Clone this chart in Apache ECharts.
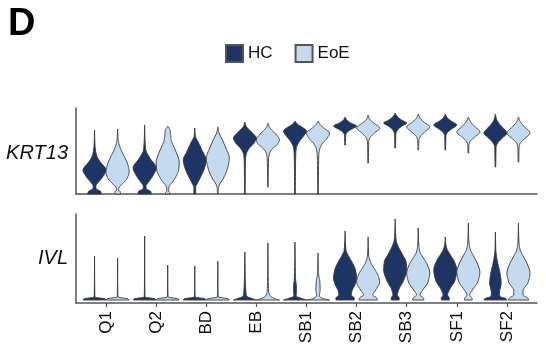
<!DOCTYPE html>
<html>
<head>
<meta charset="utf-8">
<script src="https://cdn.jsdelivr.net/npm/echarts@6/dist/echarts.min.js"></script>
<style>
  html, body { margin: 0; padding: 0; background: #fff; }
  #chart { width: 546px; height: 351px; }
</style>
</head>
<body>
<div id="chart"></div>
<script>
var categories = ["Q1", "Q2", "BD", "EB", "SB1", "SB2", "SB3", "SF1", "SF2"];
var groups = ["HC", "EoE"];
var genes = ["KRT13", "IVL"];

// violin profiles: [expression, relative density] from bottom to top
var krt13HC = [
  [[0, 0.6], [0.3, 0.5], [0.5, 0.15], [0.8, 0.12], [1.2, 0.35], [1.7, 0.7], [2.4, 1.0], [3.2, 0.5], [3.9, 0.17], [4.9, 0.04], [6.4, 0]],
  [[0, 0.6], [0.3, 0.5], [0.5, 0.15], [0.8, 0.12], [1.2, 0.35], [1.8, 0.7], [2.6, 1.0], [3.6, 0.45], [4.4, 0.1], [5.5, 0.03], [6.9, 0]],
  [[0, 0.08], [0.7, 0.08], [1.0, 0.2], [1.8, 0.55], [2.6, 0.85], [3.4, 1.0], [4.2, 0.7], [5.2, 0.3], [5.8, 0.05], [6.6, 0]],
  [[0, 0.03], [2.0, 0.04], [3.4, 0.06], [4.0, 0.12], [4.6, 0.4], [5.1, 0.8], [5.6, 1.0], [6.0, 0.75], [6.4, 0.4], [6.8, 0.1], [7.2, 0]],
  [[0, 0.03], [2.0, 0.04], [4.0, 0.07], [4.6, 0.12], [5.2, 0.35], [5.8, 0.75], [6.3, 1.0], [6.7, 0.6], [7.0, 0.2], [7.3, 0]],
  [[4.9, 0.03], [5.9, 0.06], [6.2, 0.2], [6.5, 0.6], [6.8, 1.0], [7.1, 0.5], [7.4, 0.15], [7.7, 0]],
  [[4.6, 0.03], [6.0, 0.06], [6.4, 0.2], [6.8, 0.6], [7.1, 1.0], [7.4, 0.55], [7.8, 0.15], [8.1, 0]],
  [[4.4, 0.03], [5.8, 0.05], [6.1, 0.15], [6.5, 0.55], [6.9, 1.0], [7.3, 0.5], [7.7, 0.12], [8.0, 0]],
  [[2.7, 0.03], [4.7, 0.06], [5.1, 0.2], [5.6, 0.6], [6.1, 1.0], [6.5, 0.75], [7.0, 0.35], [7.5, 0.1], [8.0, 0]]
];
var krt13EoE = [
  [[0, 0.25], [0.2, 0.25], [0.4, 0.08], [0.7, 0.15], [1.1, 0.5], [1.6, 0.85], [2.2, 1.0], [2.8, 0.92], [3.6, 0.65], [4.3, 0.35], [5.0, 0.12], [5.5, 0.04], [6.5, 0]],
  [[0, 0.2], [0.1, 0.2], [0.3, 0.08], [0.7, 0.1], [1.1, 0.35], [1.7, 0.7], [2.4, 0.95], [3.2, 1.0], [4.0, 0.8], [4.8, 0.5], [5.4, 0.3], [5.9, 0.25], [6.4, 0.2], [6.8, 0]],
  [[0, 0.04], [0.4, 0.04], [0.8, 0.1], [1.6, 0.5], [2.6, 0.85], [3.6, 1.0], [4.6, 0.7], [5.4, 0.4], [6.2, 0.08], [6.7, 0]],
  [[0.7, 0.02], [3.5, 0.06], [4.1, 0.15], [4.6, 0.45], [5.0, 0.85], [5.4, 1.0], [6.1, 0.6], [6.5, 0.25], [6.8, 0.08], [7.1, 0]],
  [[0, 0.03], [3.8, 0.06], [4.4, 0.12], [5.0, 0.35], [5.6, 0.8], [6.1, 1.0], [6.6, 0.5], [7.0, 0.15], [7.3, 0]],
  [[3.1, 0.03], [5.2, 0.05], [5.6, 0.15], [6.1, 0.55], [6.6, 1.0], [7.1, 0.5], [7.5, 0.12], [7.9, 0]],
  [[4.4, 0.03], [5.3, 0.05], [5.7, 0.15], [6.2, 0.55], [6.7, 1.0], [7.2, 0.5], [7.6, 0.15], [8.0, 0]],
  [[4.1, 0.03], [4.9, 0.05], [5.2, 0.12], [5.7, 0.55], [6.2, 1.0], [6.8, 0.5], [7.3, 0.15], [7.7, 0]],
  [[3.2, 0.03], [4.6, 0.05], [5.0, 0.12], [5.5, 0.5], [6.1, 1.0], [6.8, 0.45], [7.3, 0.12], [7.7, 0]]
];
var ivlHC = [
  [[0, 1], [0.12, 0.9], [0.3, 0.03], [4.4, 0]],
  [[0, 1], [0.12, 0.9], [0.3, 0.03], [6.4, 0]],
  [[0, 1], [0.12, 0.9], [0.3, 0.03], [3.4, 0]],
  [[0, 1], [0.12, 0.7], [0.4, 0.15], [1.0, 0.08], [2.0, 0.04], [4.8, 0]],
  [[0, 1], [0.15, 0.6], [0.4, 0.1], [0.8, 0.13], [1.4, 0.13], [2.0, 0.06], [3.0, 0.03], [5.8, 0]],
  [[0, 0.8], [0.2, 0.8], [0.5, 0.55], [0.9, 0.6], [1.5, 0.85], [2.2, 1.0], [3.0, 0.9], [3.8, 0.6], [4.5, 0.25], [5.0, 0.08], [5.8, 0.03], [6.9, 0]],
  [[0, 0.35], [0.2, 0.35], [0.5, 0.2], [1.0, 0.3], [2.0, 0.75], [3.0, 1.0], [3.8, 0.95], [4.6, 0.6], [5.4, 0.25], [6.0, 0.08], [7.0, 0.03], [8.1, 0]],
  [[0, 0.35], [0.2, 0.35], [0.5, 0.2], [1.0, 0.35], [2.0, 0.85], [3.0, 1.0], [3.8, 0.8], [4.5, 0.45], [5.1, 0.15], [5.6, 0.05], [6.3, 0]],
  [[0, 1], [0.15, 0.9], [0.35, 0.4], [0.7, 0.35], [1.7, 0.5], [2.7, 0.4], [3.7, 0.2], [4.5, 0.08], [5.2, 0.03], [6.8, 0]]
];
var ivlEoE = [
  [[0, 1], [0.12, 0.9], [0.3, 0.03], [4.2, 0]],
  [[0, 1], [0.12, 0.9], [0.3, 0.03], [3.5, 0]],
  [[0, 1], [0.12, 0.9], [0.3, 0.03], [3.9, 0]],
  [[0, 1], [0.15, 0.6], [0.4, 0.2], [0.9, 0.06], [2.0, 0.03], [5.7, 0]],
  [[0, 1], [0.12, 0.5], [0.4, 0.12], [1.0, 0.18], [1.8, 0.16], [2.5, 0.06], [3.2, 0.03], [4.7, 0]],
  [[0, 0.8], [0.2, 0.75], [0.5, 0.4], [0.9, 0.6], [1.8, 1.0], [2.5, 0.85], [3.2, 0.5], [3.8, 0.2], [4.4, 0.06], [5.2, 0.02], [6.3, 0]],
  [[0, 0.5], [0.2, 0.45], [0.5, 0.15], [1.0, 0.4], [1.8, 0.85], [2.7, 1.0], [3.5, 0.8], [4.2, 0.45], [4.8, 0.15], [5.5, 0.05], [7.2, 0]],
  [[0, 0.35], [0.2, 0.3], [0.5, 0.12], [1.0, 0.35], [1.9, 0.85], [2.8, 1.0], [3.6, 0.8], [4.4, 0.45], [5.1, 0.15], [5.8, 0.05], [6.6, 0.02], [7.7, 0]],
  [[0, 0.9], [0.2, 0.8], [0.5, 0.4], [0.9, 0.4], [1.8, 0.85], [2.7, 1.0], [3.5, 0.8], [4.3, 0.45], [5.0, 0.15], [5.7, 0.05], [6.5, 0.02], [7.7, 0]]
];

var colors = ["#1c3564", "#c4daee"];
var halfW = 0.23;   // max half width of a violin, in category units
var offset = 0.23;  // dodge of each group from the category centre

var myChart = echarts.init(document.getElementById("chart"));

// monotone cubic (pchip) outline so the drawn curve never overshoots the profile
function smoothProfile(prof, steps) {
  var n = prof.length, d = [], m = [], out = [];
  for (var i = 0; i < n - 1; i++) {
    d.push((prof[i + 1][1] - prof[i][1]) / (prof[i + 1][0] - prof[i][0]));
  }
  m[0] = d[0];
  m[n - 1] = d[n - 2];
  for (var j = 1; j < n - 1; j++) {
    if (d[j - 1] * d[j] <= 0) { m[j] = 0; continue; }
    var h0 = prof[j][0] - prof[j - 1][0], h1 = prof[j + 1][0] - prof[j][0];
    m[j] = 3 * (h0 + h1) / ((2 * h1 + h0) / d[j - 1] + (h1 + 2 * h0) / d[j]);
  }
  for (var k = 0; k < n - 1; k++) {
    var y0 = prof[k][0], y1 = prof[k + 1][0], h = y1 - y0;
    var w0 = prof[k][1], w1 = prof[k + 1][1];
    for (var s = 0; s < steps; s++) {
      var t = s / steps, t2 = t * t, t3 = t2 * t;
      var w = (2 * t3 - 3 * t2 + 1) * w0 + (t3 - 2 * t2 + t) * h * m[k] +
              (-2 * t3 + 3 * t2) * w1 + (t3 - t2) * h * m[k + 1];
      out.push([y0 + t * h, Math.max(0, w)]);
    }
  }
  out.push(prof[n - 1]);
  return out;
}

function violinRender(profiles, g) {
  return function (params, api) {
    var ci = api.value(0);
    var prof = smoothProfile(profiles[ci], 8);
    var xc = ci + (g === 0 ? -offset : offset);
    var right = [], left = [];
    prof.forEach(function (p) {
      right.push(api.coord([xc + p[1] * halfW, p[0]]));
      left.unshift(api.coord([xc - p[1] * halfW, p[0]]));
    });
    return {
      type: "polygon",
      shape: { points: right.concat(left) },
      style: { fill: colors[g], stroke: "#3a3a3a", lineWidth: 0.9, lineJoin: "round" }
    };
  };
}

var catIdx = categories.map(function (c, i) { return [i]; });

function violinSeries(name, g, profiles, axisIdx) {
  return {
    name: name,
    type: "custom",
    xAxisIndex: axisIdx,
    yAxisIndex: axisIdx,
    renderItem: violinRender(profiles, g),
    itemStyle: { color: colors[g], borderColor: "#555", borderWidth: 1 },
    encode: { x: 0 },
    data: catIdx,
    silent: true
  };
}

var axisLineStyle = { show: true, onZero: false, lineStyle: { color: "#555", width: 1.5 } };

var option = {
  animation: false,
  textStyle: { fontFamily: "Liberation Sans, Arial, sans-serif" },
  legend: {
    data: groups,
    left: 220,
    top: 39,
    icon: "rect",
    itemWidth: 17,
    itemHeight: 17,
    itemGap: 22,
    textStyle: { fontSize: 17, color: "#111" }
  },
  graphic: [
    { type: "text", left: 8, top: 6, style: { text: "D", fontSize: 38, fontWeight: "bold", fill: "#000", fontFamily: "Liberation Sans, Arial" } },
    { type: "text", right: 546 - 68, top: 143, style: { text: genes[0], fontSize: 20, fontStyle: "italic", fill: "#111", fontFamily: "Liberation Sans, Arial" } },
    { type: "text", right: 546 - 68, top: 248, style: { text: genes[1], fontSize: 20, fontStyle: "italic", fill: "#111", fontFamily: "Liberation Sans, Arial" } }
  ],
  grid: [
    { left: 76, right: 9, top: 108, height: 86 },
    { left: 76, right: 9, top: 214, height: 89 }
  ],
  xAxis: [
    {
      type: "value", gridIndex: 0, min: -0.6, max: 8.6,
      axisLine: axisLineStyle, axisTick: { show: false }, axisLabel: { show: false }, splitLine: { show: false }
    },
    {
      type: "value", gridIndex: 1, min: -0.6, max: 8.6,
      axisLine: axisLineStyle,
      axisTick: { show: true, customValues: [0, 1, 2, 3, 4, 5, 6, 7, 8], length: 4, lineStyle: { color: "#555", width: 1.2 } },
      axisLabel: {
        show: true, customValues: [0, 1, 2, 3, 4, 5, 6, 7, 8], rotate: 90, margin: 8,
        fontSize: 17, color: "#111",
        formatter: function (v) { return categories[Math.round(v)]; }
      },
      splitLine: { show: false }
    }
  ],
  yAxis: [
    {
      type: "value", gridIndex: 0, min: 0, max: 8.6,
      axisLine: axisLineStyle, axisTick: { show: false }, axisLabel: { show: false }, splitLine: { show: false }
    },
    {
      type: "value", gridIndex: 1, min: -0.3, max: 8.6,
      axisLine: axisLineStyle, axisTick: { show: false }, axisLabel: { show: false }, splitLine: { show: false }
    }
  ],
  series: [
    violinSeries("HC", 0, krt13HC, 0),
    violinSeries("EoE", 1, krt13EoE, 0),
    violinSeries("HC", 0, ivlHC, 1),
    violinSeries("EoE", 1, ivlEoE, 1)
  ]
};

myChart.setOption(option);
window.addEventListener("resize", function () { myChart.resize(); });
</script>
</body>
</html>
